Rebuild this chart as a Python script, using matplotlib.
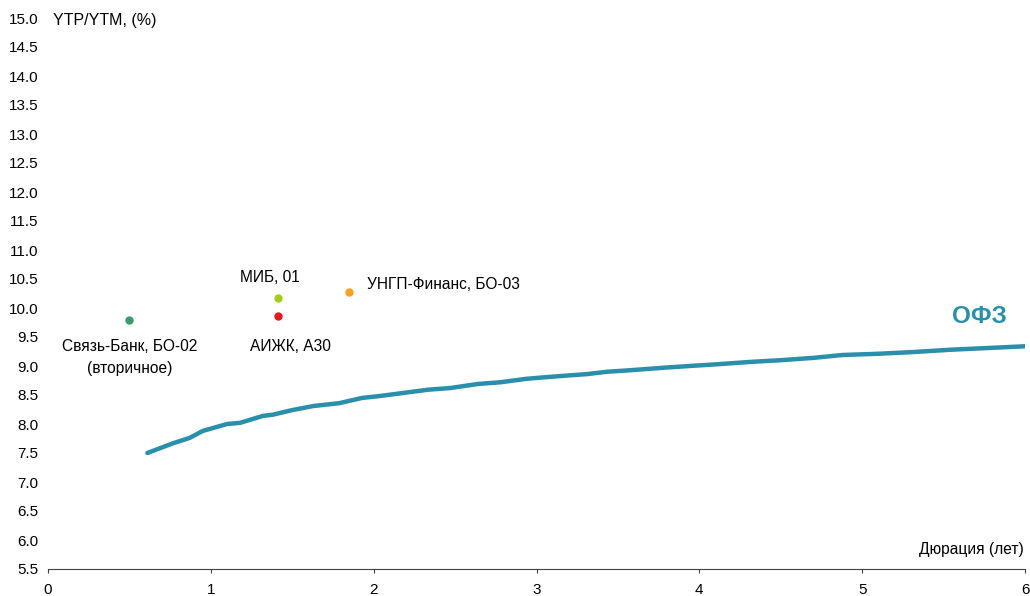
import matplotlib.pyplot as plt
import numpy as np

plt.rcParams["font.family"] = ["Liberation Sans", "DejaVu Sans"]

# кривая ОФЗ (дюрация, доходность)
ofz_dur = [0.61, 0.77, 0.87, 0.95, 1.10, 1.18, 1.32, 1.38, 1.50, 1.63, 1.79, 1.93, 2.03,
           2.14, 2.33, 2.47, 2.64, 2.78, 2.94, 3.07, 3.21, 3.31, 3.43, 3.59, 3.78, 3.94,
           4.11, 4.31, 4.50, 4.70, 4.88, 5.09, 5.31, 5.54, 5.77, 6.00]
ofz_yld = [7.50, 7.67, 7.76, 7.88, 8.00, 8.02, 8.14, 8.16, 8.24, 8.31, 8.36, 8.45, 8.48,
           8.52, 8.59, 8.62, 8.69, 8.72, 8.78, 8.81, 8.84, 8.86, 8.90, 8.93, 8.97, 9.00,
           9.03, 9.07, 9.10, 9.14, 9.19, 9.21, 9.24, 9.28, 9.31, 9.34]

# отдельные выпуски
bond_dur = [0.50, 1.41, 1.41, 1.85]
bond_yld = [9.79, 10.17, 9.86, 10.28]
bond_colors = ["#3a9a6a", "#a2cc1e", "#e8161b", "#f7a21b"]

fig = plt.figure(figsize=(10.3, 5.96), dpi=100)
ax = fig.add_axes([48 / 1030, 1 - 569 / 596, (1025 - 48) / 1030, (569 - 18) / 596])

ax.plot(ofz_dur, ofz_yld, color="#2a8fab", lw=3.2, solid_capstyle="round")
for d, y, c in zip(bond_dur, bond_yld, bond_colors):
    ax.plot(d, y, "o", color=c, ms=6, mec="none")

ax.set_xlim(0, 6)
ax.set_ylim(5.5, 15.0)
ax.set_yticks(np.arange(5.5, 15.01, 0.5))
ax.set_yticklabels([f"{v:.1f}" for v in np.arange(5.5, 15.01, 0.5)])
ax.set_xticks(range(7))

for s in ["top", "right", "left"]:
    ax.spines[s].set_visible(False)
ax.spines["bottom"].set_color("#404040")
ax.tick_params(axis="y", length=0, pad=7, labelsize=11)
ax.tick_params(axis="x", length=3, pad=7, labelsize=11, color="#404040")

fs = 11.2
ax.text(0.50, 9.33, "Связь-Банк, БО-02", ha="center", va="center", fontsize=fs)
ax.text(0.50, 8.95, "(вторичное)", ha="center", va="center", fontsize=fs)
ax.text(1.36, 10.53, "МИБ, 01", ha="center", va="center", fontsize=fs)
ax.text(1.49, 9.34, "АИЖК, А30", ha="center", va="center", fontsize=fs)
ax.text(1.96, 10.41, "УНГП-Финанс, БО-03", ha="left", va="center", fontsize=fs)
ax.text(5.72, 9.86, "ОФЗ", ha="center", va="center", fontsize=17.5, fontweight="bold",
        color="#2a8fab")
ax.text(5.99, 5.83, "Дюрация (лет)", ha="right", va="center", fontsize=fs)
ax.text(0.03, 14.95, "YTP/YTM, (%)", ha="left", va="center", fontsize=11.5)

fig.savefig("out.png", dpi=100)
